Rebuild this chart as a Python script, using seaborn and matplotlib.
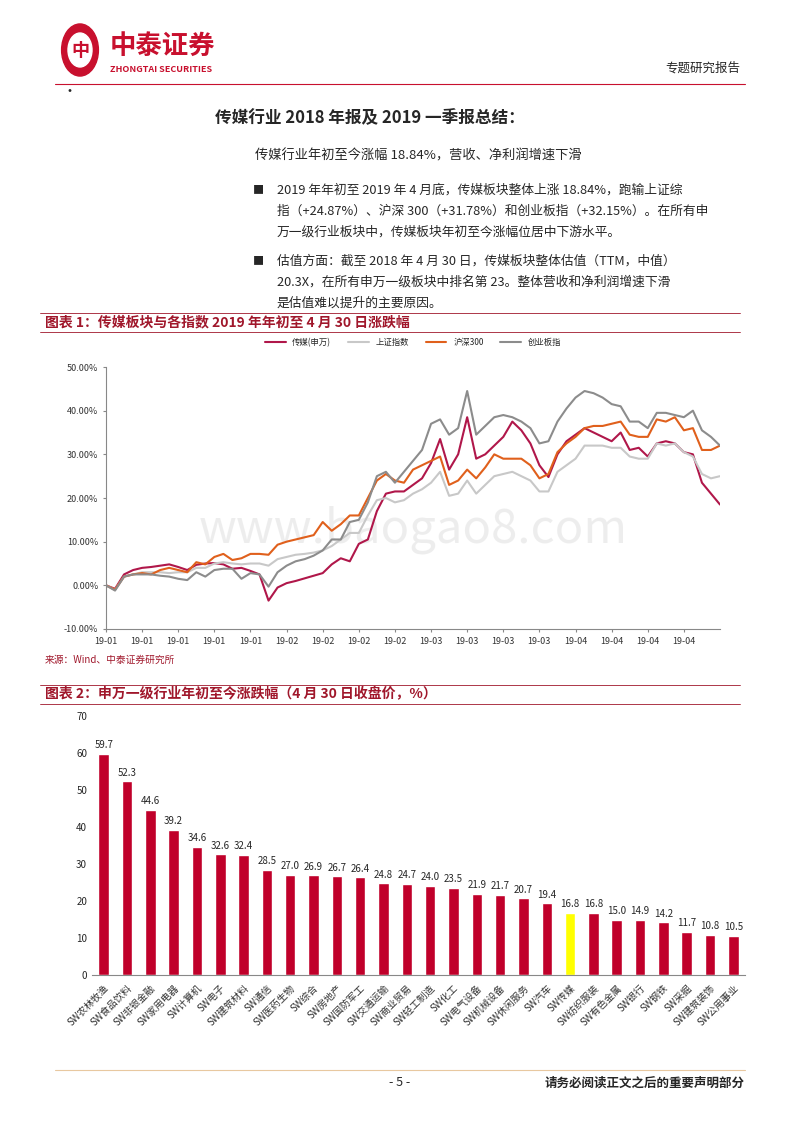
import numpy as np
import pandas as pd
import matplotlib
matplotlib.use("agg")
import matplotlib.pyplot as plt
import seaborn as sns
from matplotlib.patches import Circle

sns.set_style("white")
plt.rcParams['font.family'] = ['Noto Sans CJK SC', 'DejaVu Sans']
plt.rcParams['axes.unicode_minus'] = False

# ---- chart 1 data (cumulative % since 2019-01-02) ----
media = [0, -0.8, 2.5, 3.5, 4, 4.2, 4.5, 4.8, 4.2, 3.5, 4.7, 5.0, 5.1, 4.8, 3.8, 4, 3.3, 2.5,
         -3.5, -0.5, 0.5, 1, 1.6, 2.2, 2.8, 4.8, 6.2, 5.5, 9.5, 10.5, 17, 21, 21.5, 21.5, 23, 24.5,
         28, 33.5, 26.5, 30, 38.5, 29, 30, 32, 34, 37.5, 35.5, 32.5, 27.5, 24.8, 30, 33, 34.5, 36,
         35, 34, 33, 35, 31, 31.5, 29.5, 32.5, 33, 32.5, 30.5, 30, 23.5, 21, 18.5]
sh_index = [0, -1, 2, 2.5, 3, 3, 3, 2.8, 3, 3, 4, 4, 5, 5.3, 5, 4.8, 5, 5, 4.5, 6, 6.5, 7, 7.2,
            7.5, 8, 9, 10.5, 12, 12, 16, 19.5, 20, 19, 19.5, 21, 22, 23.5, 26, 20.5, 21, 24, 21,
            23, 25, 25.5, 26, 25, 24, 21.5, 21.5, 26, 27.5, 29, 32, 32, 32, 31.5, 31.5, 29.5, 29,
            29, 32.5, 32, 32.5, 30.5, 29.5, 25.5, 24.5, 25]
hs300 = [0, -1, 2, 2.5, 2.8, 2.5, 3.5, 4, 3.5, 3, 5.3, 4.8, 6.5, 7.2, 5.8, 6.2, 7.2, 7.2, 7.0,
         9.3, 10, 10.5, 11, 11.5, 14.5, 12.5, 14, 16, 16, 20, 24, 25.5, 24, 23.5, 26.5, 27.5, 28.5,
         29.5, 23, 24, 26.5, 24.5, 27, 30, 29, 29, 29, 27.5, 24.5, 25.5, 30.5, 32.5, 34, 36, 36.5,
         36.5, 37, 37.5, 34.5, 34, 34, 38, 37.5, 38.5, 35.5, 36, 31, 31, 32]
gem = [0, -1.2, 2, 2.5, 2.5, 2.5, 2.2, 2, 1.5, 1.2, 3, 2, 3.5, 3.8, 3.8, 1.5, 2.8, 2.5, -0.3, 3,
       4.5, 5.5, 6, 6.8, 8, 10.5, 10.5, 14.5, 15, 19, 25, 26, 23.5, 26, 28.5, 31, 37, 38, 34.5, 36,
       44.5, 34.5, 36.5, 38.5, 39, 38.5, 37.5, 36, 32.5, 33, 37.5, 40.5, 43, 44.5, 44, 43, 41.5,
       41, 37.5, 37.5, 36, 39.5, 39.5, 39, 38.5, 40, 35.5, 34, 32]
month_labels = ["19-01"] * 5 + ["19-02"] * 4 + ["19-03"] * 4 + ["19-04"] * 4

# ---- chart 2 data ----
industries = ["SW农林牧渔", "SW食品饮料", "SW非银金融", "SW家用电器", "SW计算机", "SW电子",
              "SW建筑材料", "SW通信", "SW医药生物", "SW综合", "SW房地产", "SW国防军工",
              "SW交通运输", "SW商业贸易", "SW轻工制造", "SW化工", "SW电气设备", "SW机械设备",
              "SW休闲服务", "SW汽车", "SW传媒", "SW纺织服装", "SW有色金属", "SW银行", "SW钢铁",
              "SW采掘", "SW建筑装饰", "SW公用事业"]
returns = [59.7, 52.3, 44.6, 39.2, 34.6, 32.6, 32.4, 28.5, 27.0, 26.9, 26.7, 26.4, 24.8, 24.7,
           24.0, 23.5, 21.9, 21.7, 20.7, 19.4, 16.8, 16.8, 15.0, 14.9, 14.2, 11.7, 10.8, 10.5]

W, H = 800, 1132
fig = plt.figure(figsize=(8, 11.32), dpi=100)
def fx(x): return x / W
def fy(y): return 1 - y / H

dark_red = "#A0172B"
# header
fig.patches.append(Circle((fx(80), fy(50)), 0.023, transform=fig.transFigure, color="#C8102E"))
fig.patches.append(Circle((fx(80), fy(50)), 0.015, transform=fig.transFigure, color="white"))
fig.text(fx(80), fy(50), "中", color="#C8102E", fontsize=13, fontweight="bold", ha="center", va="center")
fig.text(fx(110), fy(46), "中泰证券", color="#C8102E", fontsize=19, fontweight="bold", va="center")
fig.text(fx(110), fy(70), "ZHONGTAI SECURITIES", color="#C8102E", fontsize=6.5, fontweight="bold", va="center")
fig.text(fx(740), fy(68), "专题研究报告", fontsize=9, ha="right", va="center")
fig.add_artist(plt.Line2D([fx(55), fx(745)], [fy(84), fy(84)], color="#C8102E", lw=0.8))
fig.text(fx(62), fy(92), "·", fontsize=10, va="center")

fig.text(fx(370), fy(118), "传媒行业 2018 年报及 2019 一季报总结：", fontsize=12, fontweight="bold",
         ha="center", va="center")
fig.text(fx(255), fy(156), "传媒行业年初至今涨幅 18.84%，营收、净利润增速下滑", fontsize=9.5, va="center")
bullets = [
    (190, "■", "2019 年年初至 2019 年 4 月底，传媒板块整体上涨 18.84%，跑输上证综"),
    (211, "", "指（+24.87%）、沪深 300（+31.78%）和创业板指（+32.15%）。在所有申"),
    (232, "", "万一级行业板块中，传媒板块年初至今涨幅位居中下游水平。"),
    (261, "■", "估值方面：截至 2018 年 4 月 30 日，传媒板块整体估值（TTM，中值）"),
    (282, "", "20.3X，在所有申万一级板块中排名第 23。整体营收和净利润增速下滑"),
    (303, "", "是估值难以提升的主要原因。"),
]
for y, mark, txt in bullets:
    if mark:
        fig.text(fx(253), fy(y), mark, fontsize=8, va="center")
    fig.text(fx(277), fy(y), txt, fontsize=9.2, va="center")

def section(y, title):
    fig.add_artist(plt.Line2D([fx(40), fx(740)], [fy(y - 9), fy(y - 9)], color=dark_red, lw=0.6))
    fig.add_artist(plt.Line2D([fx(40), fx(740)], [fy(y + 10), fy(y + 10)], color=dark_red, lw=0.6))
    fig.text(fx(45), fy(y), title, color=dark_red, fontsize=10, fontweight="bold",
             style="italic", va="center")

section(322, "图表 1：传媒板块与各指数 2019 年年初至 4 月 30 日涨跌幅")
section(694, "图表 2：申万一级行业年初至今涨跌幅（4 月 30 日收盘价，%）")
fig.text(fx(45), fy(660), "来源：Wind、中泰证券研究所", color=dark_red, fontsize=7, va="center")

# ---- chart 1 ----
ax1 = fig.add_axes([fx(106), fy(629), fx(720 - 106), fy(367) - fy(629)])
df = pd.DataFrame({"传媒(申万)": media, "上证指数": sh_index, "沪深300": hs300, "创业板指": gem})
df["idx"] = np.arange(len(df))
long = df.melt(id_vars="idx", var_name="series", value_name="val")
palette = {"传媒(申万)": "#B0174A", "上证指数": "#C8C8C8", "沪深300": "#E0601C", "创业板指": "#8C8C8C"}
sns.lineplot(data=long, x="idx", y="val", hue="series", palette=palette, ax=ax1, lw=1.5)
ax1.set_ylim(-10, 50)
ax1.set_xlim(0, len(media) - 1)
ax1.set_yticks(np.arange(-10, 51, 10))
ax1.set_yticklabels([f"{v:.2f}%" for v in np.arange(-10, 51, 10)], fontsize=6.5, color="#333333")
ax1.set_xticks(np.arange(0, 65, 4))
ax1.set_xticklabels(month_labels, fontsize=6.5, color="#333333")
ax1.set_xlabel("")
ax1.set_ylabel("")
for s in ["top", "right"]:
    ax1.spines[s].set_visible(False)
for s in ["left", "bottom"]:
    ax1.spines[s].set_color("#888888")
ax1.tick_params(axis="both", length=2, color="#888888", direction="out", bottom=True, left=True)
ax1.legend(loc="upper center", bbox_to_anchor=(0.5, 1.14), ncol=4, frameon=False, fontsize=6,
           handlelength=2.5)
ax1.text(0.5, 0.38, "www.baogao8.com", transform=ax1.transAxes, fontsize=34, color="#DDDDDD",
         alpha=0.5, ha="center", va="center", zorder=0)

# ---- chart 2 ----
ax2 = fig.add_axes([fx(92), fy(975), fx(745 - 92), fy(716) - fy(975)])
bdf = pd.DataFrame({"ind": industries, "ret": returns})
colors = ["#FFFF00" if i == "SW传媒" else "#C0002A" for i in industries]
sns.barplot(data=bdf, x="ind", y="ret", hue="ind", palette=colors, legend=False, ax=ax2,
            width=0.45, saturation=1)
for i, v in enumerate(returns):
    ax2.text(i, v + 1, f"{v:.1f}", ha="center", va="bottom", fontsize=7)
ax2.set_ylim(0, 70)
ax2.set_yticks(range(0, 71, 10))
ax2.tick_params(axis="y", labelsize=7, length=0)
ax2.set_xticks(range(len(industries)))
ax2.set_xticklabels(industries, rotation=45, ha="right", rotation_mode="anchor", fontsize=7,
                    color="#333333")
ax2.tick_params(axis="x", length=2, color="#888888")
ax2.set_xlabel("")
ax2.set_ylabel("")
for s in ["top", "right", "left"]:
    ax2.spines[s].set_visible(False)
ax2.spines["bottom"].set_color("#888888")

# footer
fig.add_artist(plt.Line2D([fx(55), fx(745)], [fy(1070), fy(1070)], color="#E8C8A0", lw=0.8))
fig.text(fx(400), fy(1083), "- 5 -", fontsize=9, ha="center", va="center")
fig.text(fx(745), fy(1083), "请务必阅读正文之后的重要声明部分", fontsize=9, fontweight="bold",
         ha="right", va="center")

fig.savefig("out.png", dpi=100)
